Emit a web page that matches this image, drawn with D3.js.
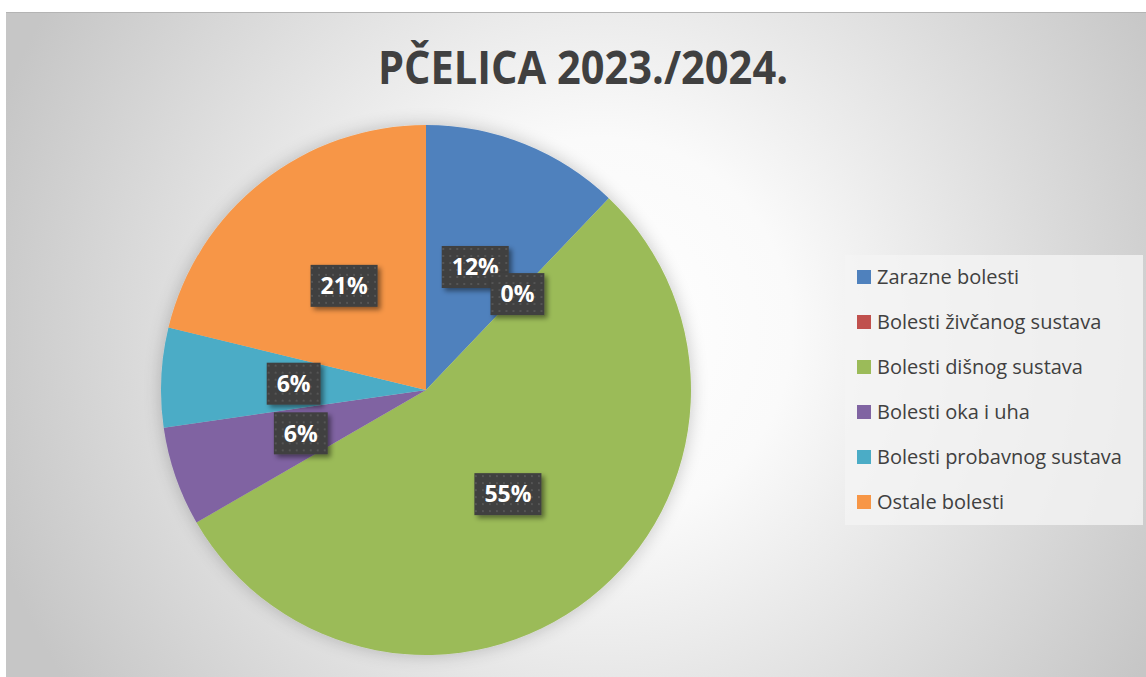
<!DOCTYPE html>
<html>
<head>
<meta charset="utf-8">
<script src="https://cdn.jsdelivr.net/npm/d3@7"></script>
<style>
  body { margin: 0; background: #fff; }
  svg { display: block; }
</style>
</head>
<body>
<svg id="chart" width="1146" height="677"></svg>
<script>
// data (counts, shown as percent of total)
const categories = ["Zarazne bolesti", "Bolesti živčanog sustava", "Bolesti dišnog sustava",
                    "Bolesti oka i uha", "Bolesti probavnog sustava", "Ostale bolesti"];
const values = [4, 0, 18, 2, 2, 7];
const colors = ["#4F81BD", "#C0504D", "#9BBB59", "#8064A2", "#4BACC6", "#F79646"];
const title = "PČELICA 2023./2024.";

let svg = d3.select("#chart");
let width = 1146, height = 677;

let defs = svg.append("defs");

// background gradient
let bg = defs.append("radialGradient")
    .attr("id", "bgGrad")
    .attr("gradientUnits", "userSpaceOnUse")
    .attr("cx", 600).attr("cy", 330).attr("r", 640);
bg.append("stop").attr("offset", "0").attr("stop-color", "#ffffff");
bg.append("stop").attr("offset", "0.3").attr("stop-color", "#fafafa");
bg.append("stop").attr("offset", "0.7").attr("stop-color", "#dcdcdc");
bg.append("stop").attr("offset", "1").attr("stop-color", "#c6c6c6");

// halo around pie
let halo = defs.append("filter").attr("id", "halo")
    .attr("x", "-20%").attr("y", "-20%").attr("width", "140%").attr("height", "140%");
halo.append("feGaussianBlur").attr("in", "SourceAlpha").attr("stdDeviation", 9).attr("result", "b");
halo.append("feComponentTransfer").attr("in", "b").attr("result", "b2")
    .append("feFuncA").attr("type", "linear").attr("slope", 0.22);
let hm = halo.append("feMerge");
hm.append("feMergeNode").attr("in", "b2");
hm.append("feMergeNode").attr("in", "SourceGraphic");

// label shadow
let lsh = defs.append("filter").attr("id", "lshadow")
    .attr("x", "-30%").attr("y", "-30%").attr("width", "160%").attr("height", "160%");
lsh.append("feDropShadow").attr("dx", 3).attr("dy", 3).attr("stdDeviation", 2.5)
    .attr("flood-color", "#000").attr("flood-opacity", 0.45);

// dotted label fill
let pat = defs.append("pattern").attr("id", "dots")
    .attr("patternUnits", "userSpaceOnUse").attr("width", 7).attr("height", 7);
pat.append("rect").attr("width", 7).attr("height", 7).attr("fill", "#3f3f3f");
pat.append("rect").attr("x", 2).attr("y", 2).attr("width", 2).attr("height", 2).attr("fill", "#555555");

// chart area
svg.append("rect")
    .attr("x", 6).attr("y", 12)
    .attr("width", width - 6).attr("height", height - 12)
    .attr("fill", "url(#bgGrad)");
svg.append("line")
    .attr("x1", 6).attr("x2", width).attr("y1", 12.5).attr("y2", 12.5)
    .attr("stroke", "#b4b4b4").attr("stroke-width", 1);

// title
svg.append("text")
    .attr("x", 583).attr("y", 84)
    .attr("text-anchor", "middle")
    .attr("font-family", "'Liberation Sans Narrow', 'Open Sans', sans-serif")
    .attr("font-weight", "bold")
    .attr("font-size", 47)
    .attr("fill", "#404040")
    .attr("textLength", 410)
    .attr("lengthAdjust", "spacingAndGlyphs")
    .text(title);

// pie
let cx = 426, cy = 390, radius = 265;
let total = d3.sum(values);
let pie = d3.pie().sort(null).value(d => d)(values);
let arc = d3.arc().innerRadius(0).outerRadius(radius);

let g = svg.append("g").attr("transform", `translate(${cx},${cy})`);
g.append("g").attr("filter", "url(#halo)")
    .selectAll("path")
    .data(pie)
    .enter()
    .append("path")
    .attr("d", arc)
    .attr("fill", (d, i) => colors[i]);

// data labels
let labels = g.selectAll(".lbl")
    .data(pie)
    .enter()
    .append("g")
    .attr("class", "lbl")
    .attr("transform", d => {
        let c = arc.centroid(d);
        return `translate(${c[0]},${c[1]})`;
    });

labels.each(function (d) {
    let lg = d3.select(this);
    let txt = Math.round(d.data / total * 100) + "%";
    let t = lg.append("text")
        .attr("text-anchor", "middle")
        .attr("dy", "0.36em")
        .attr("font-family", "'Open Sans', sans-serif")
        .attr("font-weight", "bold")
        .attr("font-size", 23)
        .attr("fill", "#ffffff")
        .text(txt);
    let w = t.node().getComputedTextLength() + 20;
    let h = 42;
    lg.insert("rect", "text")
        .attr("x", -w / 2).attr("y", -h / 2)
        .attr("width", w).attr("height", h)
        .attr("fill", "url(#dots)")
        .attr("filter", "url(#lshadow)");
});

// legend
let legendX = 845, legendY = 255;
svg.append("rect")
    .attr("x", legendX).attr("y", legendY)
    .attr("width", 298).attr("height", 270)
    .attr("fill", "#f4f4f4").attr("fill-opacity", 0.8);

let legend = svg.selectAll(".leg")
    .data(categories)
    .enter()
    .append("g")
    .attr("class", "leg")
    .attr("transform", (d, i) => `translate(${legendX + 12},${legendY + 22 + i * 45})`);

legend.append("rect")
    .attr("x", 0).attr("y", -7)
    .attr("width", 14).attr("height", 14)
    .attr("fill", (d, i) => colors[i]);

legend.append("text")
    .attr("x", 20).attr("y", 0)
    .attr("dy", "0.35em")
    .attr("font-family", "'Open Sans', sans-serif")
    .attr("font-size", 20)
    .attr("fill", "#404040")
    .text(d => d);
</script>
</body>
</html>
